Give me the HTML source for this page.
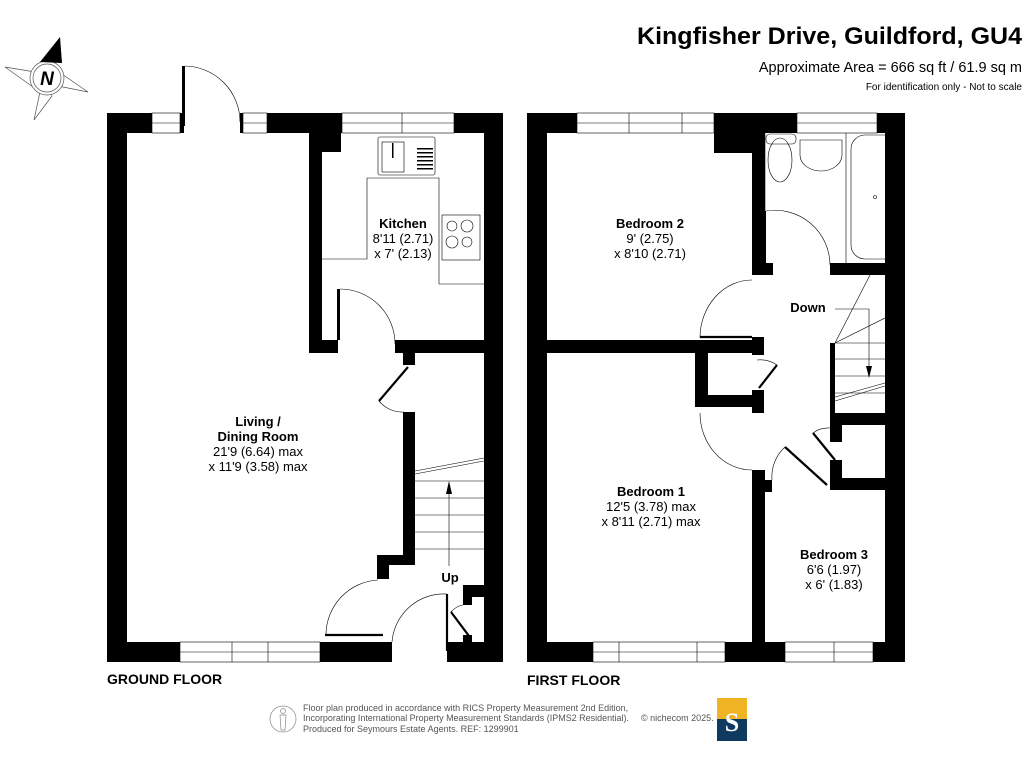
<!DOCTYPE html>
<html><head><meta charset="utf-8"><style>
html,body{margin:0;padding:0;background:#fff;}
svg{display:block;}
text{font-family:"Liberation Sans",Arial,sans-serif;}
</style></head><body>
<svg width="1024" height="768" viewBox="0 0 1024 768" xmlns="http://www.w3.org/2000/svg">
<rect width="1024" height="768" fill="#fff"/>

<!-- Compass -->
<g stroke="#555" stroke-width="0.7" fill="none">
<polygon points="5,67 35,72 47,78 40,92"/>
<polygon points="88,92 58,86 47,78 56,70"/>
<polygon points="34,120 40,92 47,78 52,96"/>
<circle cx="47" cy="78" r="17" fill="#fff"/>
<circle cx="47" cy="78" r="14"/>
</g>
<polygon points="60,37 40,62 62,63" fill="#000"/>
<text x="47" y="85" font-size="19" font-weight="bold" font-style="italic" text-anchor="middle">N</text>

<!-- Title -->
<text x="1022" y="44" font-size="24" font-weight="bold" text-anchor="end" textLength="385" lengthAdjust="spacingAndGlyphs">Kingfisher Drive, Guildford, GU4</text>
<text x="1022" y="72" font-size="14.5" text-anchor="end">Approximate Area = 666 sq ft / 61.9 sq m</text>
<text x="1022" y="90" font-size="10" text-anchor="end">For identification only - Not to scale</text>

<!-- ===== GROUND FLOOR ===== -->
<g fill="#000">
<rect x="107" y="113" width="45" height="20"/>
<rect x="107" y="113" width="20" height="549"/>
<rect x="267" y="113" width="75" height="20"/>
<rect x="454" y="113" width="49" height="20"/>
<rect x="484" y="113" width="19" height="549"/>
<rect x="107" y="642" width="73" height="20"/>
<rect x="320" y="642" width="72" height="20"/>
<rect x="447" y="642" width="56" height="20"/>
<rect x="309" y="133" width="13" height="220"/>
<rect x="322" y="133" width="19" height="19"/>
<rect x="309" y="340" width="29" height="13"/>
<rect x="395" y="340" width="89" height="13"/>
<rect x="403" y="352" width="12" height="13"/>
<rect x="403" y="412" width="12" height="153"/>
<rect x="377" y="555" width="38" height="10"/>
<rect x="377" y="555" width="12" height="24"/>
<rect x="463" y="585" width="21" height="12"/>
<rect x="463" y="585" width="9" height="20"/>
<rect x="463" y="635" width="9" height="10"/>
<rect x="180" y="113" width="4" height="20"/>
<rect x="182" y="66" width="3" height="60"/>
<rect x="240" y="113" width="3" height="20"/>
<rect x="337" y="289" width="3" height="51"/>
<rect x="763" y="211" width="3" height="52"/>
</g>
<g fill="none" stroke="#000" stroke-width="0.6">
<rect x="152" y="113" width="28" height="20"/><line x1="152" y1="123" x2="180" y2="123"/>
<rect x="243" y="113" width="24" height="20"/><line x1="243" y1="123" x2="267" y2="123"/>
<rect x="342" y="113" width="112" height="20"/><line x1="342" y1="123" x2="454" y2="123"/><line x1="402" y1="113" x2="402" y2="133"/>
<rect x="180" y="642" width="140" height="20"/><line x1="180" y1="652" x2="320" y2="652"/><line x1="232" y1="642" x2="232" y2="662"/><line x1="268" y1="642" x2="268" y2="662"/>
<path d="M185,66 A56,56 0 0 1 240,122"/>
<path d="M340,289 A55,55 0 0 1 395,344"/>
<path d="M379,401 A30,30 0 0 0 404,412"/>
<path d="M326,635 A55,55 0 0 1 378,580"/>
<path d="M392,642 A52,52 0 0 1 447,594"/>
<path d="M451,612 A20,20 0 0 1 463,605"/>
<polyline points="322,259 367,259 367,178 439,178 439,284 484,284"/>
<rect x="378" y="137" width="57" height="38" rx="2"/>
<rect x="382" y="142" width="22" height="30"/>
<rect x="442" y="215" width="38" height="45"/>
<circle cx="452" cy="226" r="5"/><circle cx="467" cy="226" r="6"/>
<circle cx="452" cy="242" r="6"/><circle cx="467" cy="242" r="5"/>
<line x1="415" y1="481" x2="484" y2="481"/>
<line x1="415" y1="498" x2="484" y2="498"/>
<line x1="415" y1="515" x2="484" y2="515"/>
<line x1="415" y1="532" x2="484" y2="532"/>
<line x1="415" y1="549" x2="484" y2="549"/>
<line x1="415" y1="474" x2="484" y2="461"/>
<line x1="415" y1="471" x2="484" y2="458"/>
<line x1="449" y1="566" x2="449" y2="490"/>
</g>
<g fill="#000" stroke="none">
<rect x="417" y="148" width="16" height="1.5"/><rect x="417" y="152" width="16" height="1.5"/><rect x="417" y="156" width="16" height="1.5"/><rect x="417" y="160" width="16" height="1.5"/><rect x="417" y="164" width="16" height="1.5"/><rect x="417" y="168" width="16" height="1.5"/>
<rect x="392" y="143" width="1.5" height="15"/>
<polygon points="449,481 446,494 452,494"/>
</g>
<g stroke="#000" stroke-width="2.2">
<line x1="408" y1="367" x2="379" y2="401"/>
<line x1="325" y1="635" x2="383" y2="635"/>
<line x1="447" y1="594" x2="447" y2="651"/>
<line x1="451" y1="612" x2="469" y2="636"/>
</g>

<!-- ===== FIRST FLOOR ===== -->
<g fill="#000">
<rect x="527" y="113" width="50" height="20"/>
<rect x="527" y="113" width="20" height="549"/>
<rect x="714" y="113" width="83" height="20"/>
<rect x="877" y="113" width="28" height="20"/>
<rect x="885" y="113" width="20" height="549"/>
<rect x="714" y="133" width="39" height="20"/>
<rect x="752" y="133" width="13" height="134"/>
<rect x="752" y="263" width="21" height="12"/>
<rect x="830" y="263" width="75" height="12"/>
<rect x="547" y="340" width="205" height="13"/>
<rect x="752" y="337" width="12" height="18"/>
<rect x="695" y="353" width="13" height="54"/>
<rect x="695" y="395" width="57" height="12"/>
<rect x="752" y="390" width="12" height="23"/>
<rect x="752" y="470" width="13" height="192"/>
<rect x="765" y="480" width="7" height="12"/>
<rect x="830" y="343" width="5" height="72"/>
<rect x="830" y="413" width="75" height="12"/>
<rect x="830" y="425" width="12" height="17"/>
<rect x="830" y="478" width="75" height="12"/>
<rect x="830" y="460" width="12" height="30"/>
<rect x="527" y="642" width="66" height="20"/>
<rect x="725" y="642" width="60" height="20"/>
<rect x="873" y="642" width="32" height="20"/>
</g>
<g fill="none" stroke="#000" stroke-width="0.6">
<rect x="577" y="113" width="137" height="20"/><line x1="577" y1="123" x2="714" y2="123"/><line x1="629" y1="113" x2="629" y2="133"/><line x1="682" y1="113" x2="682" y2="133"/>
<rect x="797" y="113" width="80" height="20"/><line x1="797" y1="123" x2="877" y2="123"/>
<rect x="593" y="642" width="132" height="20"/><line x1="593" y1="652" x2="725" y2="652"/><line x1="619" y1="642" x2="619" y2="662"/><line x1="697" y1="642" x2="697" y2="662"/>
<rect x="785" y="642" width="88" height="20"/><line x1="785" y1="652" x2="873" y2="652"/><line x1="834" y1="642" x2="834" y2="662"/>
<line x1="765" y1="133" x2="765" y2="263"/>
<line x1="846" y1="133" x2="846" y2="263"/>
<rect x="766" y="134" width="30" height="10" rx="4"/>
<ellipse cx="780" cy="160" rx="12" ry="22"/>
<path d="M800,140 L842,140 L842,155 A21,16 0 0 1 800,155 Z"/>
<rect x="851" y="135" width="48" height="124" rx="14"/>
<circle cx="875" cy="197" r="1.5"/>
<path d="M766,211 A55,55 0 0 1 830,265"/>
<path d="M752,280 A52,58 0 0 0 700,338"/>
<path d="M700,413 A52,57 0 0 0 752,470"/>
<path d="M777,365 A30,30 0 0 0 757,360"/>
<path d="M772,480 A40,40 0 0 1 785,447"/>
<path d="M813,433 A25,25 0 0 1 830,428"/>
<line x1="835" y1="343" x2="870" y2="275"/>
<line x1="835" y1="343" x2="905" y2="308"/>
<line x1="835" y1="343" x2="885" y2="343"/>
<line x1="835" y1="359" x2="885" y2="359"/>
<line x1="835" y1="376" x2="885" y2="376"/>
<line x1="835" y1="393" x2="885" y2="393"/>
<line x1="835" y1="401" x2="885" y2="386"/>
<line x1="835" y1="397" x2="885" y2="383"/>
<polyline points="835,309 869,309 869,370"/>
</g>
<g stroke="#000" stroke-width="2.2">
<line x1="700" y1="337" x2="752" y2="337"/>
<line x1="777" y1="365" x2="759" y2="388"/>
<line x1="785" y1="447" x2="827" y2="485"/>
<line x1="813" y1="433" x2="835" y2="460"/>
</g>
<polygon points="869,378 866,366 872,366" fill="#000"/>

<g font-size="13" text-anchor="middle">
<text x="403" y="228" font-weight="bold">Kitchen</text>
<text x="403" y="243">8'11 (2.71)</text>
<text x="403" y="258">x 7' (2.13)</text>
<text x="258" y="426" font-weight="bold">Living /</text>
<text x="258" y="441" font-weight="bold">Dining Room</text>
<text x="258" y="456">21'9 (6.64) max</text>
<text x="258" y="471">x 11'9 (3.58) max</text>
<text x="450" y="582" font-weight="bold">Up</text>
<text x="650" y="228" font-weight="bold">Bedroom 2</text>
<text x="650" y="243">9' (2.75)</text>
<text x="650" y="258">x 8'10 (2.71)</text>
<text x="808" y="312" font-weight="bold">Down</text>
<text x="651" y="496" font-weight="bold">Bedroom 1</text>
<text x="651" y="511">12'5 (3.78) max</text>
<text x="651" y="526">x 8'11 (2.71) max</text>
<text x="834" y="559" font-weight="bold">Bedroom 3</text>
<text x="834" y="574">6'6 (1.97)</text>
<text x="834" y="589">x 6' (1.83)</text>
</g>
<text x="107" y="684" font-size="14" font-weight="bold">GROUND FLOOR</text>
<text x="527" y="685" font-size="14" font-weight="bold">FIRST FLOOR</text>

<circle cx="283" cy="719" r="13" fill="none" stroke="#888" stroke-width="0.7"/>
<g fill="none" stroke="#888" stroke-width="0.7"><circle cx="283" cy="711" r="2.5"/><path d="M280,715 L286,715 L285,730 L281,730 Z"/></g>
<g font-size="9" fill="#555">
<text x="303" y="711">Floor plan produced in accordance with RICS Property Measurement 2nd Edition,</text>
<text x="303" y="721" textLength="326" lengthAdjust="spacingAndGlyphs">Incorporating International Property Measurement Standards (IPMS2 Residential).</text>
<text x="641" y="721">© nichecom 2025.</text>
<text x="303" y="732">Produced for Seymours Estate Agents.   REF: 1299901</text>
</g>
<rect x="717" y="698" width="30" height="21" fill="#f0b323"/>
<rect x="717" y="719" width="30" height="22" fill="#0f3a5f"/>
<text x="732" y="731" font-size="26" font-weight="bold" fill="#fff" text-anchor="middle" style="font-family:'Liberation Serif',serif">S</text>
</svg>
</body></html>
